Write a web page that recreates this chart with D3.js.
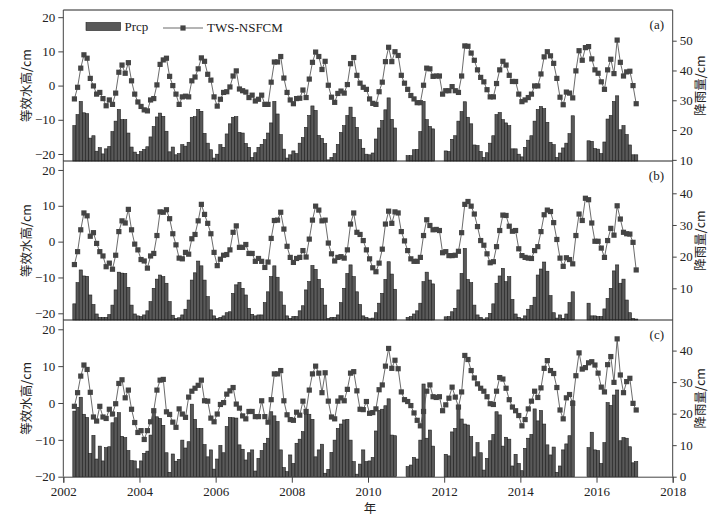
<!DOCTYPE html>
<html>
<head>
<meta charset="utf-8">
<script src="https://cdn.jsdelivr.net/npm/d3@7/dist/d3.min.js"></script>
<style>
  body { margin: 0; background: #fff; }
  svg text { font-family: "Liberation Serif", "Times New Roman", serif; fill: #222; }
  svg text.cjk { font-family: "Noto Sans CJK SC", sans-serif; }
</style>
</head>
<body>
<div id="chart"></div>
<script>
// monthly series, April 2002 .. January 2017 (178 months), null = no data
const monthCount = 178;
const xTicks = [2002, 2004, 2006, 2008, 2010, 2012, 2014, 2016, 2018];

const twsA = [
  -3.9, -0.5, 5.1, 9.0, 8.0, 2.1, -0.1, -2.5, -2.0, -3.8, -5.9, -4.2,
  -5.5, -2.2, 3.9, 6.0, 3.6, 6.7, 1.4, -2.5, -4.8, -6.1, -7.1, -7.4,
  -4.2, -3.8, 0.2, 6.2, 7.5, 8.0, 2.7, 0, -2.5, -5.5, -3.3, -3.1,
  -3.3, 1.4, 2.5, 4.9, 8.1, 7.1, 3.3, 1.6, -3.3, -6.0, -4.0, -2.0,
  -1.8, -0.4, 2.8, 4.3, -1.0, -1.5, -1.9, -3.5, -2.8, -4.5, -4.0, -2.8,
  -5.5, -5.5, 1.0, 6.9, 6.9, 8.5, 2.2, -2.0, -4.2, -5.3, -3.8, -3.7,
  -1.3, -3.5, 1.9, 6.8, 9.8, 8.5, 4.7, 7.1, 0.1, -3.4, -4.9, -2.3,
  -1.6, -2.2, 0.3, 6.4, 8.2, 3.0, 0.7,
  -0.5, -1.1, -3.9, -5.2, -5.5, -1.8, 1.0, 7.0, 11.2, 7.0, 9.9, 8.8,
  3.0, 0.7, -1.1, -2.9, -3.9, -5.0, -5.0, 0.1, 5.1, 4.9, 2.7, 2.8,
  2.8, -2.5, -1.5, -1.5, -0.3, -1.5, -2.0, 2.8, 11.6, 11.5, 9.5, 7.4,
  4.6, 2.4, 1.1, -1.2, -3.3, -3.3, 0.6, 4.6, 7.1, 6.0, 3.0, 1.2,
  1.2, -2.5, -4.7, -4.2, -3.5, -2.5, -0.1, -0.1, 3.4, 8.4, 9.9, 8.7,
  6.5, 2.1, -3.4, -5.6, -1.9, -2.2, -3.6, 4.3, 10.2, 7.4, 11.1, 11.4,
  7.8, 4.6, 3.6, 1.1, -1.1, 4.6, 7.7, 3.5, 13.3, 6.8, 2.8, 4.0,
  4.2, 0, -5.3
];

const prcpA = [
  21.5, 25.2, 29.6, 25.8, 25.5, 17.3, 18.1, 12.9, 14.1, 12.0, 13.7, 14.5,
  19.5, 23.0, 26.9, 23.5, 23.5, 19.0, 14.3, 12.6, 11.8, 12.8, 13.5, 14.4,
  17.7, 21.2, 24.4, 25.7, 24.6, 19.6, 12.7, 14.3, 11.7, 12.1, 15.1, 14.6,
  15.9, 24.3, 24.5, 26.9, 26.3, 18.9, 15.6, 13.4, 10.6, 11.9, 15.1, 14.2,
  18.7, 22.1, 24.3, 24.5, 19.2, 19.0, 15.5, 14.2, 10.8, 12.4, 14.2, 15.2,
  16.8, 19.0, 22.4, 29.6, 25.4, 18.5, 13.6, 10.6, 11.7, 13.0, 12.1, 15.6,
  17.5, 20.9, 24.9, 28.1, 26.6, 18.2, 17.2, 15.5, 10.0, 10.8, 12.1, 15.2,
  19.2, 21.5, 24.9, 27.7, 24.3, 20.9, 16.8, 13.9, 11.9, 11.7, 12.3, 17.0,
  20.7, 23.2, 26.8, 30.8, 23.6, 20.7, null, null, null, 11.4, 11.4, 13.4,
  13.5, 19.5, 29.6, 23.5, 21.2, 20.4, null, null, null, 13.0, 12.8, 16.9,
  18.1, 23.0, 26.2, 29.5, 24.3, 22.1, 15.0, 14.8, 12.8, 10.8, 12.4, 15.6,
  18.1, 25.2, 25.9, 23.5, 22.4, 21.5, 13.7, 13.7, 11.9, 11.0, 14.2, 16.6,
  18.1, 23.0, 26.9, 27.9, 27.2, 22.6, 15.9, 15.1, 10.8, 12.3, 14.0, 15.6,
  18.8, 24.8, null, null, null, null, 16.4, 16.2, 13.8, 13.6, 12.1, 16.0,
  23.7, 24.9, 29.6, 31.5, 20.1, 21.5, 18.5, 15.0, 11.7, 11.7
];

const twsB = [
  -6.4, -2.8, 3.3, 8.0, 7.2, 1.5, 2.5, -0.5, -2.8, -4.0, -7.0, -6.0,
  -7.7, -3.8, 2.8, 5.8, 5.2, 9.0, 3.3, -0.7, -2.3, -5.0, -5.4, -7.4,
  -4.0, -3.3, 1.7, 8.3, 8.2, 8.9, 6.4, 2.2, -0.9, -4.6, -4.8, -3.0,
  -3.5, 0.8, 2.0, 5.8, 10.4, 7.6, 5.1, 2.2, -3.0, -6.7, -4.9, -3.8,
  -3.6, -2.3, 2.6, 4.4, -1.6, -1.6, -0.8, -3.3, -3.3, -5.5, -4.7, -5.5,
  -7.2, -5.7, 0.9, 5.9, 6.0, 8.2, 3.5, -1.3, -4.4, -5.8, -4.7, -4.4,
  -2.5, -4.3, 0.7, 6.0, 9.9, 8.8, 5.8, 6.0, -0.4, -3.4, -5.4, -4.4,
  -4.2, -4.6, -2.3, 4.9, 8.0, 2.6, 2.0,
  0.3, -2.3, -4.8, -7.3, -8.4, -6.0, -2.1, 4.9, 8.5, 5.1, 8.3, 8.0,
  2.8, 0.2, -2.5, -4.8, -5.5, -5.5, -4.4, 1.7, 6.1, 4.5, 3.3, 3.4,
  3.1, -3.1, -2.8, -3.9, -3.9, -3.8, -2.7, 2.5, 10.4, 11.2, 9.9, 7.7,
  4.2, 0.3, -1.0, -3.4, -5.9, -5.6, -1.4, 3.1, 7.4, 7.3, 4.3, 2.9,
  3.1, -2.0, -3.9, -4.4, -4.6, -4.7, -2.5, -1.4, 2.8, 7.5, 8.8, 8.4,
  5.3, 0.6, -4.6, -6.9, -4.5, -5.0, -6.2, 1.7, 7.7, 5.9, 12.1, 11.7,
  5.2, 0.1, 0.1, -1.8, -4.4, 0.3, 3.7, 1.8, 10.0, 6.3, 2.6, 2.2,
  2.1, -0.2, -7.9
];

const prcpB = [
  5.1, 11.8, 15.8, 13.9, 13.8, 7.9, 4.9, 1.9, 0.8, 0.8, 0.8, 1.7,
  4.7, 9.5, 15.1, 14.8, 14.7, 10.3, 4.7, 1.9, 1.3, 1.1, 1.6, 2.9,
  5.8, 10.0, 12.9, 14.2, 13.7, 11.6, 5.8, 1.5, 0.5, 0.7, 1.6, 3.4,
  6.3, 12.6, 14.9, 18.6, 17.1, 12.6, 7.4, 3.2, 1.3, 0.5, 0.8, 1.3,
  2.3, 2.6, 8.4, 11.1, 11.9, 10.0, 7.9, 3.7, 1.8, 1.3, 1.6, 1.6,
  5.5, 8.9, 13.7, 17.1, 13.5, 8.9, 4.7, 1.3, 0.5, 1.1, 1.1, 2.9,
  4.5, 9.5, 12.1, 17.2, 16.0, 12.8, 10.0, 4.7, 0.5, 0.8, 0.8, 1.6,
  5.5, 10.0, 14.7, 17.4, 13.7, 8.9, 4.9, 1.3, 0.8, 0.4, 0.6, 2.3,
  5.3, 8.4, 12.8, 18.4, 14.5, 9.7, null, null, null, 0.8, 1.1, 1.9,
  2.9, 5.3, 12.1, 15.1, 12.6, 11.4, null, null, null, 1.0, 1.1, 2.6,
  3.7, 9.5, 14.7, 22.6, 12.8, 11.8, 4.7, 1.6, 0.8, 0.3, 0.7, 2.1,
  5.1, 11.6, 13.9, 16.3, 12.1, 13.7, 6.5, 1.9, 0.8, 0.4, 1.3, 3.4,
  4.6, 7.2, 14.2, 16.1, 18.3, 15.4, 7.7, 2.3, 0.6, 1.6, 0.5, 1.9,
  5.5, 8.9, null, null, null, null, 5.3, 1.3, 1.3, 1.1, 1.1, 3.5,
  6.8, 10.0, 15.5, 17.4, 11.6, 12.9, 6.3, 2.3, 0.5, 0.3
];

const twsC = [
  -0.9, 2.8, 7.3, 10.3, 9.1, 2.9, -3.8, -4.9, -0.9, -3.8, -4.2, -1.7,
  -3.0, -0.2, 5.3, 6.3, 1.4, 3.5, -1.7, -5.3, -8.0, -7.5, -9.9, -7.5,
  -5.1, -2.1, 3.5, 6.2, 6.4, -2.4, -3.1, -5.2, -6.6, -1.6, -3.0, -3.9,
  1.6, 3.2, 4.0, 4.8, 6.2, 0.6, 0.5, -4.1, -5.1, -3.0, -0.4, 0.1,
  2.4, 3.3, 4.2, -0.3, -1.4, -3.5, -4.3, -2.3, -2.3, -3.7, -3.7, 0.6,
  -3.7, -5.2, 0.9, 7.9, 7.9, 8.8, 0.6, -3.2, -4.5, -4.7, -2.5, -3.3,
  0.5, -2.3, 3.5, 7.9, 10.0, 8.1, 2.8, 8.2, 0.5, -3.8, -4.3, 0.5,
  1.4, 0.6, 3.7, 8.1, 8.5, 3.3, -1.7, -1.8, 0.4, -2.8, -2.6, -1.6,
  3.6, 4.9, 10.0, 14.8, 9.4, 11.6, 9.3, 3.0, 0.9, 0.4, -0.7, -2.7,
  -4.7, -6.2, -2.3, 3.2, 4.9, 1.7, 1.5, 1.7, -2.1, -0.5, 1.3, 4.3,
  1.6, -1.1, 3.0, 12.9, 11.8, 8.8, 6.8, 5.2, 4.0, 3.2, 1.7, -0.2,
  -0.4, 3.2, 6.9, 6.5, 4.0, 0.9, -1.1, -2.1, -3.4, -6.2, -4.5, -1.6,
  0.5, 3.2, 1.5, 4.1, 9.4, 11.5, 8.8, 8.0, 4.2, -1.9, -4.3, 1.4,
  2.3, -0.1, 7.4, 13.6, 9.2, 9.6, 10.9, 11.2, 10.3, 8.1, 4.3, 3.0,
  10.4, 12.6, 5.6, 17.4, 7.6, 2.8, 5.8, 6.7, -0.1, -1.9
];

const prcpC = [
  20.8, 22.0, 25.2, 19.8, 18.8, 7.4, 13.1, 5.6, 9.7, 5.0, 9.2, 9.5,
  17.1, 18.7, 20.3, 12.8, 12.4, 8.3, 5.1, 5.0, 2.5, 5.0, 7.4, 8.1,
  13.2, 20.6, 19.0, 18.5, 16.3, 7.6, 1.4, 7.2, 4.9, 5.5, 11.6, 9.1,
  11.1, 23.0, 18.2, 15.3, 15.3, 10.2, 6.3, 8.5, 2.4, 5.6, 9.9, 7.6,
  15.9, 18.8, 18.7, 18.6, 10.1, 8.7, 5.3, 7.6, 8.5, 1.8, 5.8, 8.3,
  10.6, 12.2, 20.6, 19.3, 17.5, 8.5, 2.9, 1.6, 6.9, 4.2, 10.6, 11.9,
  14.3, 19.8, 19.8, 18.2, 6.3, 8.5, 10.3, 1.1, 2.3, 7.7, 11.6, 15.3,
  16.7, 18.0, 18.2, 11.6, 4.8, 0.8, 4.0, 8.5, 4.8, 5.0, 6.1, 14.5,
  21.0, 21.4, 22.5, 24.7, 13.2, 13.0, null, null, null, 3.2, 3.7, 6.1,
  5.6, 11.6, 29.4, 12.2, 14.8, 9.7, null, null, null, 7.1, 6.6, 14.2,
  15.3, 21.4, 18.3, 16.7, 16.4, 12.7, 6.3, 10.8, 7.6, 2.1, 5.8, 11.4,
  13.4, 20.6, 19.6, 9.7, 12.5, 11.9, 3.4, 7.1, 4.2, 1.9, 9.0, 12.2,
  13.4, 21.5, 17.7, 21.0, 16.7, 10.1, 6.9, 9.4, 1.4, 3.4, 8.5, 10.4,
  13.0, 24.1, null, null, null, null, 9.2, 14.1, 8.5, 8.3, 4.2, 10.8,
  23.5, 22.6, 25.9, 27.5, 11.4, 12.4, 12.2, 9.5, 4.4, 4.8
];

const panels = [
  { label: "(a)", top: 10, bottom: 161, left: [-22.05, 22.1], right: [9.62, 60.3],
    leftTicks: [-20, -10, 0, 10, 20], rightTicks: [10, 20, 30, 40, 50], tws: twsA, prcp: prcpA },
  { label: "(b)", top: 161, bottom: 320, left: [-21.87, 22.5], right: [0, 50.2],
    leftTicks: [-20, -10, 0, 10, 20], rightTicks: [10, 20, 30, 40], tws: twsB, prcp: prcpB },
  { label: "(c)", top: 320, bottom: 476.7, left: [-20, 22.52], right: [0, 49.7],
    leftTicks: [-20, -10, 0, 10, 20], rightTicks: [0, 10, 20, 30, 40], tws: twsC, prcp: prcpC }
];

const width = 722, height = 518;
const x0 = 63.3, x1 = 672.7;

// month i starts at 2002 + (3 + i) / 12
const monthStart = i => 2002 + (3 + i) / 12;

const svg = d3.select("#chart").append("svg")
  .attr("width", width)
  .attr("height", height);

const x = d3.scaleLinear().domain([2002, 2018]).range([x0, x1]);
const idx = d3.range(monthCount);

panels.forEach((p, k) => {
  const yL = d3.scaleLinear().domain(p.left).range([p.bottom, p.top]);
  const yR = d3.scaleLinear().domain(p.right).range([p.bottom, p.top]);
  const g = svg.append("g");

  // precipitation bars
  g.selectAll("rect.bar")
    .data(idx.filter(i => p.prcp[i] != null))
    .enter().append("rect")
    .attr("class", "bar")
    .attr("x", i => x(monthStart(i)))
    .attr("width", i => x(monthStart(i + 1)) - x(monthStart(i)))
    .attr("y", i => yR(p.prcp[i]))
    .attr("height", i => p.bottom - yR(p.prcp[i]))
    .attr("fill", "#595959")
    .attr("stroke", "#1e1e1e")
    .attr("stroke-width", 0.6);

  // TWS line + square markers
  const line = d3.line()
    .x(i => x(monthStart(i + 0.5)))
    .y(i => yL(p.tws[i]));
  g.append("path")
    .datum(idx)
    .attr("d", line)
    .attr("fill", "none")
    .attr("stroke", "#5a5a5a")
    .attr("stroke-width", 0.9);
  g.selectAll("rect.pt")
    .data(idx)
    .enter().append("rect")
    .attr("class", "pt")
    .attr("x", i => x(monthStart(i + 0.5)) - 2.6)
    .attr("y", i => yL(p.tws[i]) - 2.6)
    .attr("width", 5.2)
    .attr("height", 5.2)
    .attr("fill", "#444");

  // frame: top border + side axes
  g.append("line").attr("x1", x0).attr("x2", x1).attr("y1", p.top).attr("y2", p.top)
    .attr("stroke", "#222").attr("stroke-width", 1);

  const left = d3.axisLeft(yL).tickValues(p.leftTicks).tickSize(5).tickPadding(3);
  const gl = g.append("g").attr("transform", `translate(${x0},0)`).call(left);
  gl.select(".domain").attr("d", `M0,${p.top}V${p.bottom}`);

  const right = d3.axisRight(yR).tickValues(p.rightTicks).tickSize(4).tickPadding(3);
  const gr = g.append("g").attr("transform", `translate(${x1},0)`).call(right);
  gr.select(".domain").attr("d", `M0,${p.top}V${p.bottom}`);

  [gl, gr].forEach(a => {
    a.selectAll("text").style("font-size", "13px").attr("fill", "#222");
    a.selectAll("line, path").attr("stroke", "#444");
  });

  // panel label
  g.append("text")
    .attr("x", 664).attr("y", p.top + 19)
    .attr("text-anchor", "end")
    .style("font-size", "13px")
    .text(p.label);

  // axis titles (both read bottom to top)
  const midL = (p.top + p.bottom) / 2;
  g.append("text")
    .attr("class", "cjk")
    .attr("transform", `translate(31,${midL}) rotate(-90)`)
    .attr("text-anchor", "middle")
    .style("font-size", "12.5px")
    .attr("fill", "#444")
    .text("等效水高/cm");
  g.append("text")
    .attr("class", "cjk")
    .attr("transform", `translate(705,${midL}) rotate(-90)`)
    .attr("text-anchor", "middle")
    .style("font-size", "12.5px")
    .attr("fill", "#444")
    .text("降雨量/cm");
});

// bottom x axis
const xAxis = d3.axisBottom(x).tickValues(xTicks).tickFormat(d3.format("d")).tickSize(6).tickPadding(4);
const gx = svg.append("g").attr("transform", `translate(0,${panels[2].bottom})`).call(xAxis);
gx.selectAll("text").style("font-size", "13px").attr("fill", "#222");
gx.selectAll("line, path").attr("stroke", "#444");

svg.append("text")
  .attr("class", "cjk")
  .attr("x", 370).attr("y", 513)
  .attr("text-anchor", "middle")
  .style("font-size", "12.5px")
  .attr("fill", "#444")
  .text("年");

// legend
const lg = svg.append("g");
lg.append("rect").attr("x", 86).attr("y", 22.5).attr("width", 34.5).attr("height", 8)
  .attr("fill", "#595959").attr("stroke", "#1e1e1e").attr("stroke-width", 0.6);
lg.append("text").attr("x", 124.5).attr("y", 31).style("font-size", "13px").text("Prcp");
lg.append("line").attr("x1", 163).attr("x2", 203).attr("y1", 28).attr("y2", 28)
  .attr("stroke", "#5a5a5a").attr("stroke-width", 0.9);
lg.append("rect").attr("x", 180.4).attr("y", 25.4).attr("width", 5.2).attr("height", 5.2).attr("fill", "#444");
lg.append("text").attr("x", 207).attr("y", 32).style("font-size", "13px").text("TWS-NSFCM");
</script>
</body>
</html>
